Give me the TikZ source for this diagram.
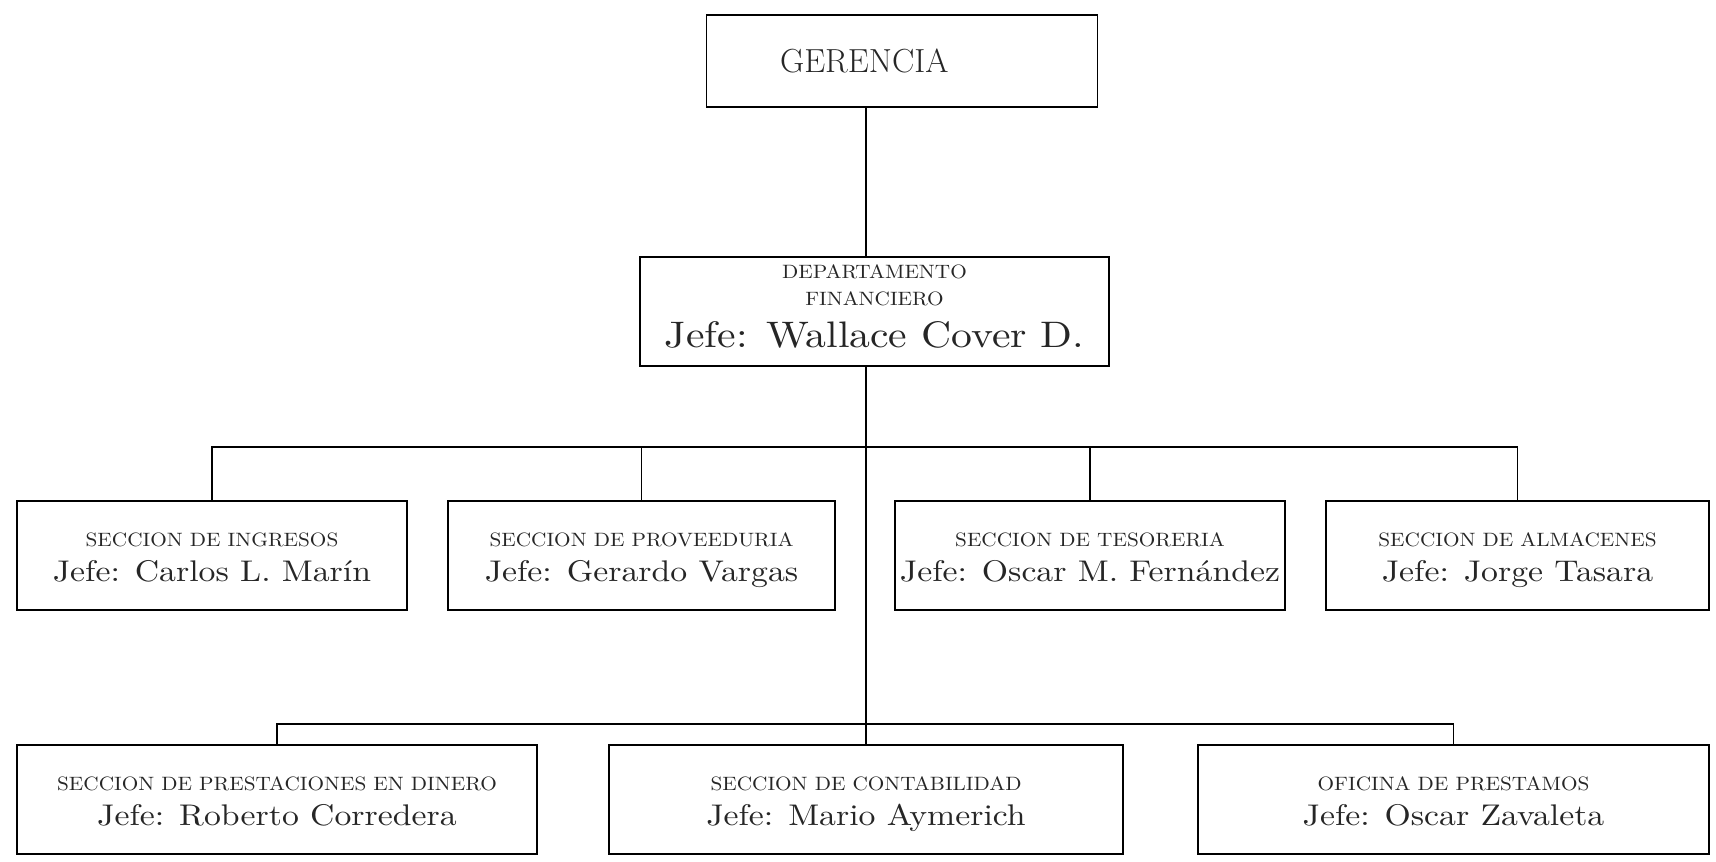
\documentclass[tikz,border=0pt]{standalone}
\usepackage{fontspec}
\usepackage{tikz}

\newfontfamily\rotulofont[FakeStretch=1.1]{lmroman10-regular.otf}
\newfontfamily\jefefont[FakeStretch=1.13]{lmroman10-regular.otf}
\newcommand{\rotulo}[1]{{\rotulofont\fontsize{11}{13}\selectfont\strut#1}}
\newcommand{\jefe}[1]{{\jefefont\fontsize{17}{20}\selectfont\strut#1}}
\newcommand{\jefegrande}[1]{{\jefefont\fontsize{21}{25}\selectfont\strut#1}}
\newcommand{\seccion}[2]{\rule{0pt}{16pt}\rotulo{#1}\\\jefe{#2}}

\tikzset{
    caja/.style={draw, line width=1.1pt, align=center, inner sep=0pt,
        minimum height=21.8mm, text=black!85, font=\fontsize{17}{20}\selectfont},
    linea/.style={line width=1.1pt}
}

\begin{document}
\begin{tikzpicture}[x=0.2mm, y=-0.2mm]
    \useasboundingbox (0,0) rectangle (1716,861);

    \node[caja, minimum width=78.2mm, minimum height=18.4mm] at (902, 61) (ger) {{\fontsize{19}{22}\selectfont GERENCIA}\hspace*{43pt}};
    \node[caja, minimum width=93.8mm, font=\fontsize{21}{25}\selectfont] at (874.5, 311.5) (dep) {\rotulo{DEPARTAMENTO}\\[-9.6pt]\rotulo{FINANCIERO}\\[-1.4pt]\jefegrande{Jefe: Wallace Cover D.}};

    \node[caja, minimum width=78mm] at (212, 555.5) (ing) {\seccion{SECCION DE INGRESOS}{Jefe: Carlos L. Marín}};
    \node[caja, minimum width=77.4mm] at (641.5, 555.5) (prov) {\seccion{SECCION DE PROVEEDURIA}{Jefe: Gerardo Vargas}};
    \node[caja, minimum width=78mm] at (1090, 555.5) (tes) {\seccion{SECCION DE TESORERIA}{Jefe: Oscar M. Fernández}};
    \node[caja, minimum width=76.6mm] at (1517.5, 555.5) (alm) {\seccion{SECCION DE ALMACENES}{Jefe: Jorge Tasara}};

    \node[caja, minimum width=104mm] at (277, 799.5) (pres) {\seccion{SECCION DE PRESTACIONES EN DINERO}{Jefe: Roberto Corredera}};
    \node[caja, minimum width=102.8mm] at (866, 799.5) (cont) {\seccion{SECCION DE CONTABILIDAD}{Jefe: Mario Aymerich}};
    \node[caja, minimum width=102.2mm] at (1453.5, 799.5) (ofi) {\seccion{OFICINA DE PRESTAMOS}{Jefe: Oscar Zavaleta}};

    \coordinate (b1) at (0, 447);
    \coordinate (b2) at (0, 724);

    \draw[linea] (ger.south -| cont.north) -- (dep.north -| cont.north);
    \draw[linea] (dep.south -| cont.north) -- (cont.north);
    \draw[linea] (ing.north) -- (ing.north |- b1) -- (alm.north |- b1) -- (alm.north);
    \draw[linea] (prov.north) -- (prov.north |- b1);
    \draw[linea] (tes.north) -- (tes.north |- b1);
    \draw[linea] (pres.north) -- (pres.north |- b2) -- (ofi.north |- b2) -- (ofi.north);
\end{tikzpicture}
\end{document}
